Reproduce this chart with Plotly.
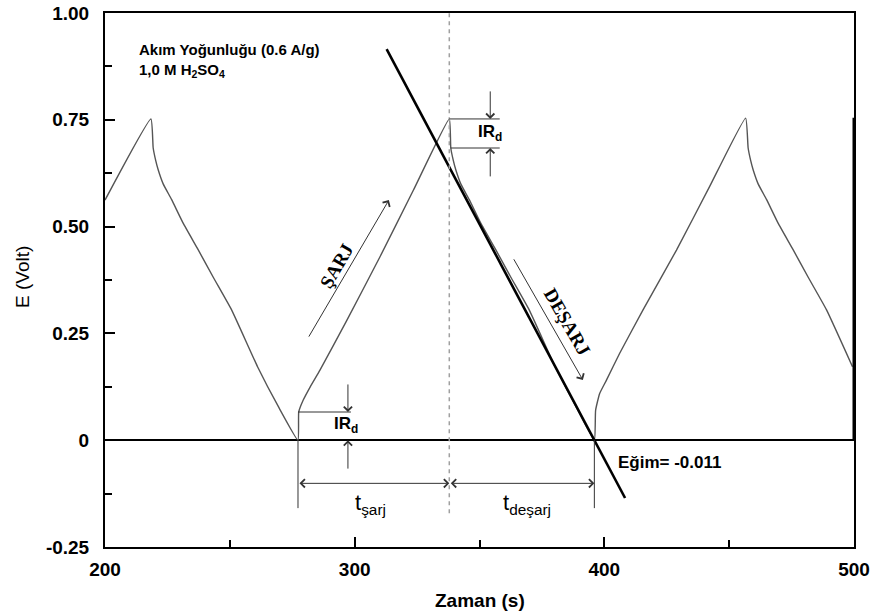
import plotly.graph_objects as go

# Galvanostatic charge / discharge curve (time in s, potential in V)
zaman = [200.0, 218.4, 219.3, 220.3, 221.3, 223.3, 226.7, 231.3, 237.3, 243.3, 250.7, 261.1, 269.4, 277.3,
         277.6, 279.4, 282.2, 286.1, 296.8, 310.2, 323.5, 337.9,
         338.5, 339.5, 340.5, 342.5, 345.9, 350.5, 356.5, 362.5, 369.9, 380.3, 388.6, 396.0,
         396.5, 398.1, 400.8, 406.1, 415.5, 428.9, 442.2, 456.6,
         457.6, 458.6, 459.6, 461.6, 465.0, 469.6, 475.6, 481.6, 489.0, 499.4]
potansiyel = [0.562, 0.752, 0.684, 0.655, 0.633, 0.600, 0.563, 0.508, 0.446, 0.382, 0.305, 0.172, 0.079, 0.0,
              0.066, 0.094, 0.125, 0.164, 0.280, 0.430, 0.585, 0.752,
              0.684, 0.655, 0.633, 0.600, 0.563, 0.508, 0.446, 0.382, 0.305, 0.172, 0.079, 0.0,
              0.070, 0.109, 0.140, 0.203, 0.305, 0.445, 0.594, 0.754,
              0.684, 0.655, 0.633, 0.600, 0.563, 0.508, 0.446, 0.382, 0.305, 0.172]

# Key instants of the analysed cycle
t_sarj_bas = 277.3     # start of charge
t_tepe = 337.9         # end of charge / start of discharge
t_desarj_son = 396.0   # end of discharge
E_tepe = 0.752
E_ir = 0.684
E_ir_alt = 0.066

# Tangent of the discharge branch
egim = -0.011
egim_x = [312.8, 408.3]

x_tick_vals = [200, 300, 400, 500]
x_tick_text = ["200", "300", "400", "500"]
y_tick_vals = [1.0, 0.75, 0.5, 0.25, 0.0, -0.25]
y_tick_text = ["1.00", "0.75", "0.50", "0.25", "0", "-0.25"]

FONT = "Liberation Sans, Arial, sans-serif"
SERIF = "Liberation Serif, Times New Roman, serif"
LINE = "#333333"

fig = go.Figure()

fig.add_trace(go.Scatter(x=zaman, y=potansiyel, mode="lines",
                         line=dict(color="#555555", width=1.4, shape="spline", smoothing=0.4),
                         hoverinfo="skip", showlegend=False))

# tangent line through the end of discharge
fig.add_trace(go.Scatter(x=egim_x,
                         y=[egim * (x - t_desarj_son) for x in egim_x],
                         mode="lines", line=dict(color="black", width=2.6),
                         hoverinfo="skip", showlegend=False))

shapes = []
# dashed separator at the peak
shapes.append(dict(type="line", x0=t_tepe, x1=t_tepe, y0=-0.171, y1=1.0,
                   line=dict(color="#a0a0a0", width=1.5, dash="4px,4px")))
# IR drop marker lines (top)
shapes.append(dict(type="line", x0=t_tepe, x1=358.1, y0=E_tepe, y1=E_tepe,
                   line=dict(color=LINE, width=1)))
shapes.append(dict(type="line", x0=t_tepe + 0.6, x1=358.1, y0=E_ir, y1=E_ir,
                   line=dict(color=LINE, width=1)))
# IR marker line (bottom)
shapes.append(dict(type="line", x0=t_sarj_bas, x1=298.5, y0=E_ir_alt, y1=E_ir_alt,
                   line=dict(color=LINE, width=1)))
# vertical extension lines for the time spans
for xv in (t_sarj_bas, t_desarj_son):
    shapes.append(dict(type="line", x0=xv, x1=xv, y0=0, y1=-0.159,
                       line=dict(color=LINE, width=1)))
# heavy right edge segment
shapes.append(dict(type="line", x0=500, x1=500, y0=0, y1=0.755,
                   line=dict(color="black", width=3)))

annotations = []


def arrow(x, y, ax, ay, both=False):
    annotations.append(dict(x=x, y=y, ax=ax, ay=ay, xref="x", yref="y",
                            axref="x", ayref="y", text="", showarrow=True,
                            arrowhead=4, arrowsize=1.6, arrowwidth=1,
                            arrowcolor=LINE,
                            arrowside="end+start" if both else "end"))


# IR arrows
arrow(354.3, E_tepe, 354.3, 0.820)
arrow(354.3, E_ir, 354.3, 0.614)
arrow(297.3, E_ir_alt, 297.3, 0.134)
arrow(297.3, 0.0, 297.3, -0.070)
# time span arrows
arrow(t_tepe, -0.101, t_sarj_bas, -0.101, both=True)
arrow(t_desarj_son, -0.101, t_tepe, -0.101, both=True)
# direction arrows
arrow(313.7, 0.562, 281.3, 0.239)
arrow(391.4, 0.141, 363.4, 0.427)


def label(x, y, text, size=15, bold=True, family=FONT, angle=0, xanchor="center"):
    annotations.append(dict(x=x, y=y, xref="x", yref="y", text=text,
                            showarrow=False, textangle=angle, xanchor=xanchor,
                            yanchor="middle",
                            font=dict(family=family, size=size, color="black",
                                      weight="bold" if bold else "normal")))


label(354.2, 0.719, "IR<sub>d</sub>", size=17)
label(296.5, 0.035, "IR<sub>d</sub>", size=17)
label(306.5, -0.150, "t<sub>şarj</sub>", size=22, bold=False)
label(369.0, -0.150, "t<sub>deşarj</sub>", size=22, bold=False)
label(292.9, 0.408, "ŞARJ", size=19, family=SERIF, angle=-60)
label(385.0, 0.277, "DEŞARJ", size=19, family=SERIF, angle=60)
label(404.6, -0.052, "Eğim= -0.011", size=17, xanchor="left")
label(213.0, 0.915, "Akım Yoğunluğu (0.6 A/g)", size=15, xanchor="left")
label(213.0, 0.865, "1,0 M H<sub>2</sub>SO<sub>4</sub>", size=15, xanchor="left")

# axis titles
annotations.append(dict(x=0.5, y=0, xref="paper", yref="paper",
                        text="Zaman (s)", showarrow=False, yanchor="middle",
                        yshift=-53,
                        font=dict(family=FONT, size=19, color="black", weight="bold")))
annotations.append(dict(x=0, y=0.5, xref="paper", yref="paper",
                        text="E (Volt)", showarrow=False, textangle=-90,
                        xanchor="center", yanchor="middle", xshift=-83, yshift=3,
                        font=dict(family=FONT, size=19, color="black")))

fig.update_layout(
    width=872, height=612,
    margin=dict(l=105, r=18, t=13, b=65, autoexpand=False),
    paper_bgcolor="white", plot_bgcolor="white",
    showlegend=False,
    shapes=shapes, annotations=annotations,
    font=dict(family=FONT, color="black"),
)

fig.update_xaxes(range=[200, 500], showgrid=False, zeroline=False, automargin=False,
                 showline=True, linecolor="black", linewidth=2, mirror=True,
                 ticks="inside", ticklen=10, tickwidth=1.5, tickcolor="black",
                 tickvals=x_tick_vals, ticktext=x_tick_text,
                 ticklabelstandoff=4,
                 tickfont=dict(family=FONT, size=19, color="black", weight="bold"),
                 minor=dict(dtick=50, tick0=200, ticks="inside", ticklen=7,
                            tickwidth=1.5, tickcolor="black", showgrid=False))
fig.update_yaxes(range=[-0.25, 1.0], showgrid=False, automargin=False,
                 zeroline=True, zerolinecolor="black", zerolinewidth=1.8,
                 showline=True, linecolor="black", linewidth=2, mirror=True,
                 ticks="inside", ticklen=10, tickwidth=1.5, tickcolor="black",
                 tickvals=y_tick_vals, ticktext=y_tick_text,
                 ticklabelstandoff=10,
                 tickfont=dict(family=FONT, size=19, color="black", weight="bold"),
                 minor=dict(dtick=0.125, tick0=0, ticks="inside", ticklen=7,
                            tickwidth=1.5, tickcolor="black", showgrid=False))

fig.write_html("out.html")
